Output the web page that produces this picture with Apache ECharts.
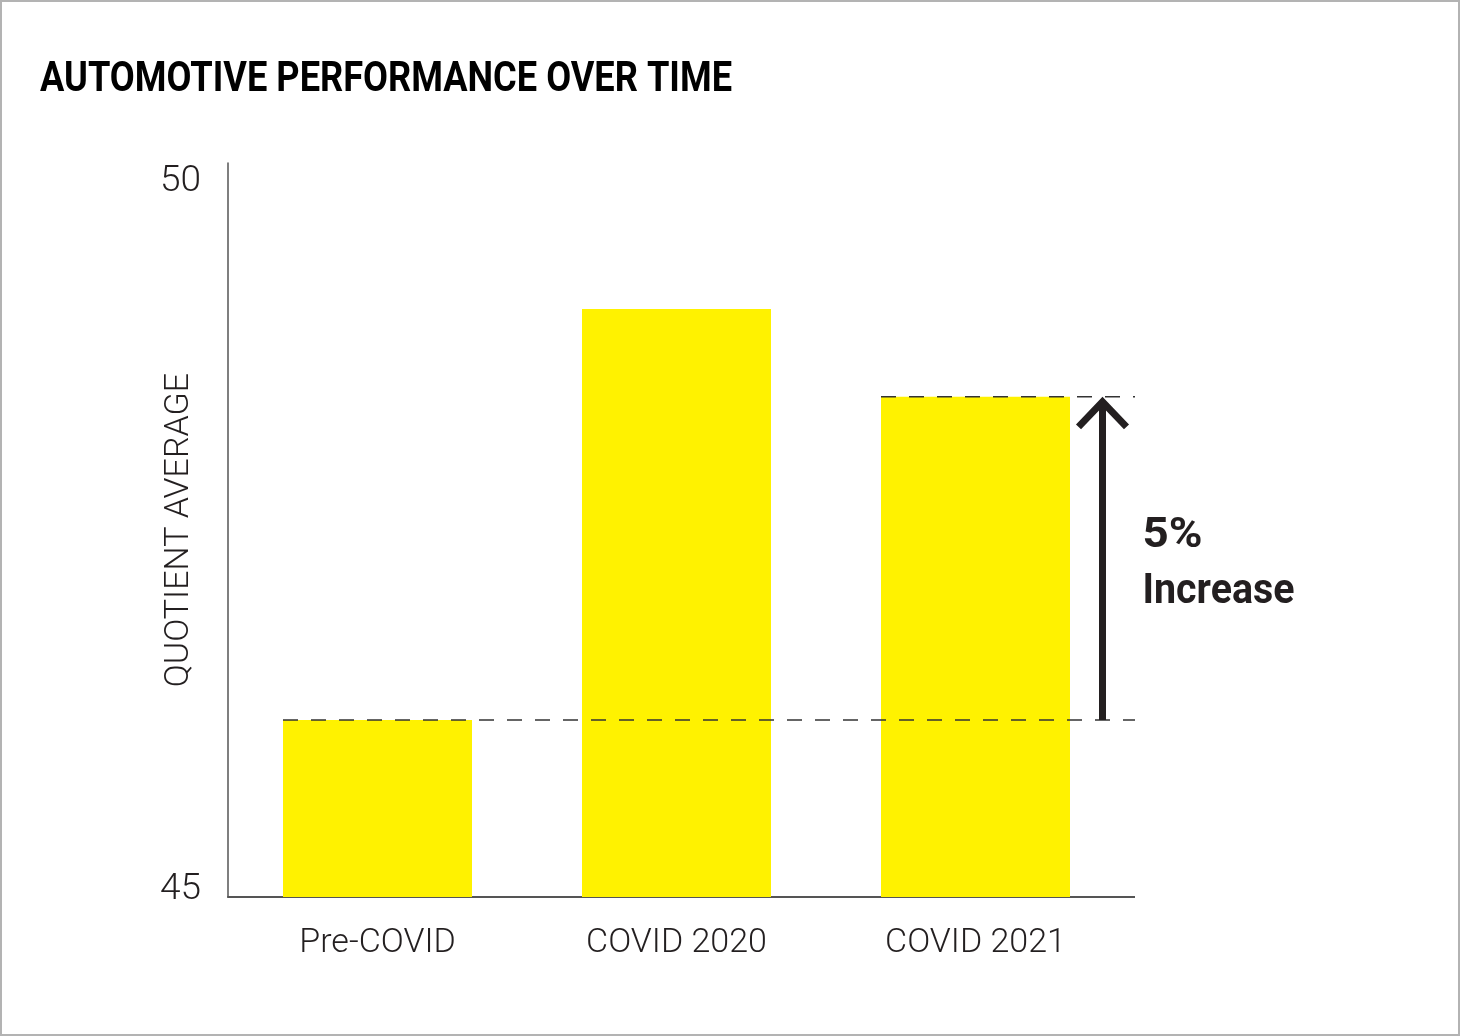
<!DOCTYPE html>
<html><head><meta charset="utf-8">
<script src="https://cdn.jsdelivr.net/npm/echarts@6/dist/echarts.min.js"></script>
<style>
html,body{margin:0;padding:0;background:#fff}
#c{width:1460px;height:1036px;position:absolute;left:0;top:0}
#frame{position:absolute;left:0;top:0;width:1460px;height:1036px;box-sizing:border-box;border:2px solid #b3b3b3;pointer-events:none}
</style>
</head><body><div id="c"></div><div id="frame"></div><script>
const chartTitle = 'AUTOMOTIVE PERFORMANCE OVER TIME';
const categories = ['Pre-COVID', 'COVID 2020', 'COVID 2021'];
const values = [46.25, 49.15, 48.53];
const yTickLabels = [45, 50];
const yAxisName = 'QUOTIENT AVERAGE';
const annotationLines = ['5%', 'Increase'];
const baseIndex = 0;
const targetIndex = 2;

const BAR_W = 189;
const INK = '#231f20';
const LIGHT = "Roboto, 'Noto Sans', sans-serif";
const BOLD = "Roboto, 'Liberation Sans', sans-serif";

const mctx = document.createElement('canvas').getContext('2d');
function textWidth(str, font) { mctx.font = font; return mctx.measureText(str).width; }

const titleFont = 'bold 42px ' + BOLD;
const titleScale = 692 / textWidth(chartTitle, titleFont);
const noteFont = 'bold 43px ' + BOLD;
const pctScale = 60 / textWidth(annotationLines[0], noteFont);
const noteScale = 152 / textWidth(annotationLines[1], noteFont);

const chart = echarts.init(document.getElementById('c'), null, {renderer: 'canvas'});
chart.setOption({
  animation: false,
  backgroundColor: '#fff',
  grid: {left: 228, top: 163, width: 897, bottom: 139, containLabel: false, outerBoundsMode: 'none'},
  xAxis: {
    type: 'category', data: categories,
    axisLine: {show: true, lineStyle: {color: '#555', width: 2}},
    axisTick: {show: false},
    splitLine: {show: false},
    axisLabel: {margin: 29, fontFamily: LIGHT, fontWeight: 300, fontSize: 34, color: INK}
  },
  yAxis: {
    type: 'value', min: 45, max: 50.18,
    name: yAxisName, nameLocation: 'middle', nameGap: 32, nameRotate: 90, nameMoveOverlap: false,
    nameTextStyle: {fontFamily: LIGHT, fontWeight: 300, fontSize: 34, color: INK},
    axisLine: {show: true, lineStyle: {color: '#555', width: 1.5}},
    axisTick: {show: false},
    splitLine: {show: false},
    axisLabel: {customValues: yTickLabels, margin: 27, fontFamily: LIGHT, fontWeight: 300, fontSize: 37, color: INK, verticalAlign: 'bottom', lineHeight: 14}
  },
  series: [{
    type: 'bar', data: values, barWidth: BAR_W,
    itemStyle: {color: '#fff200'}, emphasis: {disabled: true}, silent: true
  }]
});

function px(i, v) { return chart.convertToPixel({gridIndex: 0}, [i, v]); }
const pBase = px(baseIndex, values[baseIndex]);
const pTarget = px(targetIndex, values[targetIndex]);
const pZero = px(0, 45);
const band = px(1, 45)[0] - pZero[0];
const axisEnd = px(categories.length - 1, 45)[0] + band / 2;
const lineEnd = axisEnd + 10;
const arrowX = (pTarget[0] + BAR_W / 2 + lineEnd) / 2;
const dash = {stroke: '#333', lineWidth: 1.5, lineDash: [15, 13]};
const midY = (pBase[1] + pTarget[1]) / 2;

chart.setOption({
  graphic: [
    {type: 'text', silent: true, x: 40, y: 59, scaleX: titleScale,
      style: {text: chartTitle, font: titleFont, fill: '#000', verticalAlign: 'top', align: 'left'}},
    {type: 'line', silent: true, shape: {x1: axisEnd - 1, y1: pZero[1], x2: lineEnd, y2: pZero[1]}, style: {stroke: '#555', lineWidth: 2}},
    {type: 'line', silent: true, shape: {x1: pBase[0] - BAR_W / 2, y1: pBase[1], x2: lineEnd, y2: pBase[1]}, style: dash, z: 10},
    {type: 'line', silent: true, shape: {x1: pTarget[0] - BAR_W / 2, y1: pTarget[1], x2: lineEnd, y2: pTarget[1]}, style: dash, z: 10},
    {type: 'line', silent: true, shape: {x1: arrowX, y1: pBase[1], x2: arrowX, y2: pTarget[1] + 8}, style: {stroke: INK, lineWidth: 7, lineCap: 'butt'}, z: 11},
    {type: 'polyline', silent: true, shape: {points: [[arrowX - 24, pTarget[1] + 30], [arrowX, pTarget[1] + 5], [arrowX + 24, pTarget[1] + 30]]}, style: {stroke: INK, lineWidth: 7, lineJoin: 'miter', lineCap: 'butt', fill: null}, z: 11},
    {type: 'text', silent: true, x: arrowX + 40, y: midY - 44, scaleX: pctScale,
      style: {text: annotationLines[0], font: noteFont, fill: INK, verticalAlign: 'top', align: 'left'}, z: 12},
    {type: 'text', silent: true, x: arrowX + 40, y: midY + 12, scaleX: noteScale,
      style: {text: annotationLines[1], font: noteFont, fill: INK, verticalAlign: 'top', align: 'left'}, z: 12}
  ]
});
</script></body></html>
